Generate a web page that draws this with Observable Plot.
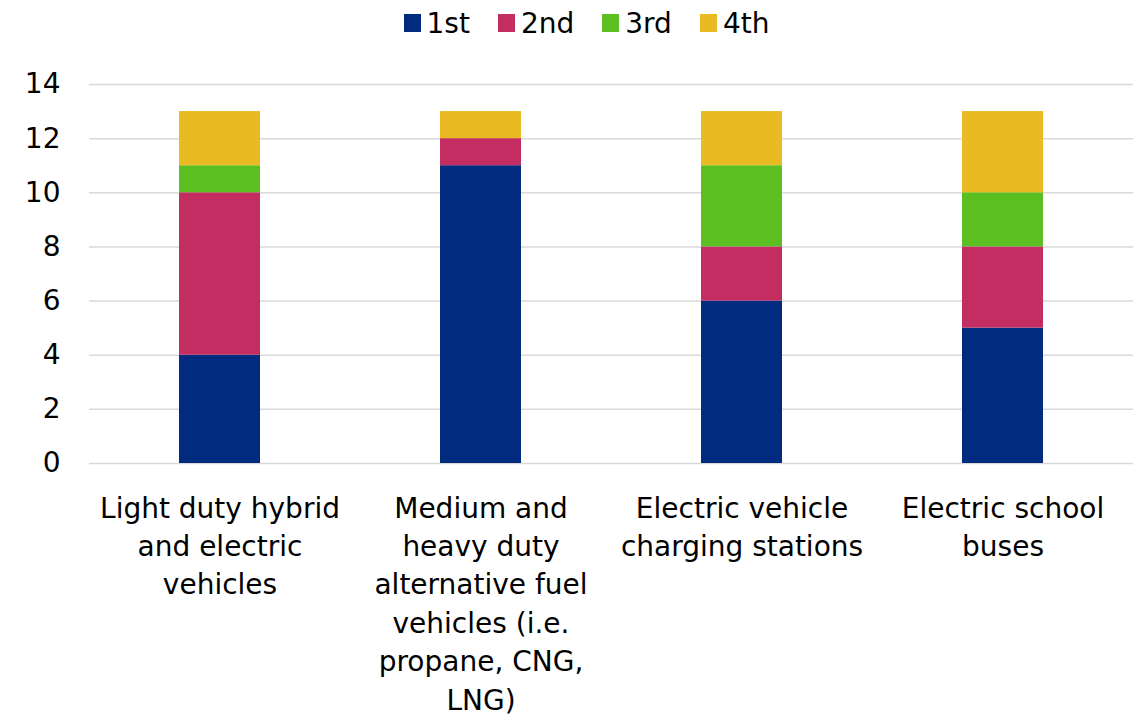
<!DOCTYPE html>
<html>
<head>
<meta charset="utf-8">
<script src="https://cdn.jsdelivr.net/npm/d3@7"></script>
<script src="https://cdn.jsdelivr.net/npm/@observablehq/plot@0.6"></script>
<style>
  html, body { margin: 0; padding: 0; background: #fff; }
  #wrap { width: 1137px; height: 725px; font-family: "DejaVu Sans", sans-serif; }
  #legend { height: 46px; display: flex; justify-content: center; align-items: center; padding-left: 36px; box-sizing: border-box; font-size: 28px; color: #000; }
  .item { display: flex; align-items: center; margin: 0 14px; }
  .sw { width: 17px; height: 18px; margin-right: 6px; }
</style>
</head>
<body>
<div id="wrap"><div id="legend"></div><div id="chart"></div></div>
<script>
const categories = [
  "Light duty hybrid and electric vehicles",
  "Medium and heavy duty alternative fuel vehicles (i.e. propane, CNG, LNG)",
  "Electric vehicle charging stations",
  "Electric school buses"
];
const tickLabels = [
  "Light duty hybrid\nand electric\nvehicles",
  "Medium and\nheavy duty\nalternative fuel\nvehicles (i.e.\npropane, CNG,\nLNG)",
  "Electric vehicle\ncharging stations",
  "Electric school\nbuses"
];
const ranks = ["1st", "2nd", "3rd", "4th"];
const first  = [4, 11, 6, 5];
const second = [6, 1, 2, 3];
const third  = [1, 0, 3, 2];
const fourth = [2, 1, 2, 3];
const colors = ["#002b7f", "#c32d62", "#5cbf21", "#e9ba21"];
const yTicks = [0, 2, 4, 6, 8, 10, 12, 14];

const series = [first, second, third, fourth];
const data = categories.flatMap((c, i) => ranks.map((r, j) => ({category: c, rank: r, value: series[j][i]})));

const legend = document.getElementById("legend");
ranks.forEach((r, j) => {
  const it = document.createElement("div");
  it.className = "item";
  it.innerHTML = `<span class="sw" style="background:${colors[j]}"></span><span>${r}</span>`;
  legend.appendChild(it);
});

const chart = Plot.plot({
  width: 1137,
  height: 679,
  marginTop: 38,
  marginBottom: 262,
  marginLeft: 89,
  marginRight: 4,
  style: {fontFamily: "DejaVu Sans, sans-serif", fontSize: "28px", color: "#000", background: "#fff"},
  x: {domain: categories, paddingInner: 0.69, paddingOuter: 0.345, align: 0.5, label: null},
  y: {domain: [0, 14], label: null},
  color: {domain: ranks, range: colors},
  marks: [
    Plot.gridY(yTicks, {stroke: "#d9d9d9", strokeOpacity: 1, strokeWidth: 1.5}),
    Plot.barY(data, {x: "category", y: "value", fill: "rank"}),
    Plot.axisY(yTicks, {tickSize: 0, tickPadding: 29, fontSize: 28, label: null}),
    Plot.axisX({tickSize: 0, tickPadding: 27, fontSize: 28, lineHeight: 1.37,
      tickFormat: d => tickLabels[categories.indexOf(d)], label: null})
  ]
});
document.getElementById("chart").appendChild(chart);
</script>
</body>
</html>
